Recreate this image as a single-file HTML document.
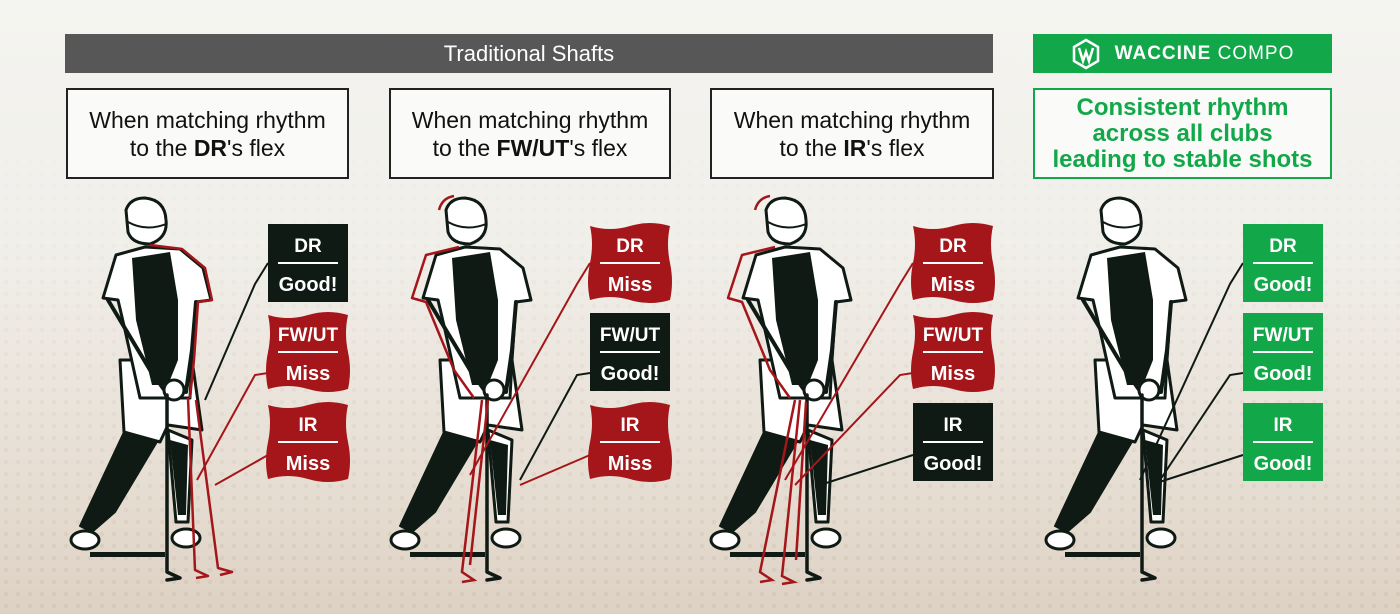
<!DOCTYPE html>
<html><head><meta charset="utf-8"><style>
html,body{margin:0;padding:0}
body{width:1400px;height:614px;overflow:hidden;font-family:"Liberation Sans",sans-serif;
background:linear-gradient(180deg,#f4f4f0 0%,#f1efea 40%,#e6ddd2 80%,#ddd1c3 100%);position:relative}
.dots{position:absolute;inset:0;background-image:radial-gradient(circle,rgba(180,160,140,.18) 2px,transparent 2.5px);background-size:12px 12px;-webkit-mask-image:linear-gradient(180deg,transparent 20%,#000 100%);mask-image:linear-gradient(180deg,transparent 20%,#000 100%)}
.bar{position:absolute;top:34px;height:39px;color:#fff;display:flex;align-items:center;justify-content:center}
.box{position:absolute;top:88px;height:91px;border:2px solid #222;background:#fafaf8;text-align:center;font-size:23px;line-height:28px;color:#111;box-sizing:border-box;padding-top:16px}
svg{position:absolute;left:0;top:0}
</style></head><body>
<div class="dots"></div>
<div class="bar" style="left:65px;width:928px;background:#575757;font-size:22px">Traditional Shafts</div>
<div class="bar" style="left:1033px;width:299px;background:#12a84a;font-size:19px;letter-spacing:1px">
<svg width="30" height="32" viewBox="0 0 30 32" style="position:static;margin-right:14px"><path d="M15 2 L27 9 L27 23 L15 30 L3 23 L3 9 Z" fill="none" stroke="#fff" stroke-width="2.5"/><path d="M8 10 L12 23 L15 14 L18 23 L22 10" fill="none" stroke="#fff" stroke-width="2.5"/></svg>
<b>WACCINE</b>&nbsp;COMPO</div>
<div class="box" style="left:66px;width:283px">When matching rhythm<br>to the <b>DR</b>'s flex</div>
<div class="box" style="left:389px;width:282px">When matching rhythm<br>to the <b>FW/UT</b>'s flex</div>
<div class="box" style="left:710px;width:284px">When matching rhythm<br>to the <b>IR</b>'s flex</div>
<div class="box" style="left:1033px;width:299px;border-color:#12a84a;color:#12a84a;font-weight:bold;font-size:24px;line-height:26px;padding-top:5px">Consistent rhythm<br>across all clubs<br>leading to stable shots</div>

<svg width="1400" height="614" viewBox="0 0 1400 614">
<defs>
<g id="golfer" stroke="#0f1a14" stroke-linejoin="round" stroke-linecap="round">
 <rect x="90" y="552" width="75" height="5" fill="#0f1a14" stroke="none"/>
 <path d="M125,430 L158,440 L115,512 L92,532 L80,526 Z" fill="#0f1a14" stroke-width="2"/>
 <path d="M168,430 L192,440 L188,522 L176,522 Z" fill="#fff" stroke-width="3"/>
 <path d="M170,440 L188,445 L186,515 L178,515 Z" fill="#0f1a14" stroke="none"/>
 <path d="M120,360 L192,360 L202,430 L168,425 L160,442 L124,432 Z" fill="#fff" stroke-width="3"/>
 <path d="M103,298 L116,255 L145,247 L180,249 L203,268 L211,300 L196,302 L192,360 L190,398 L140,398 L125,330 L118,300 Z" fill="#fff" stroke-width="3"/>
 <path d="M132,258 L170,252 L178,300 L178,360 L168,385 L152,385 L136,320 Z" fill="#0f1a14" stroke="none"/>
 <path d="M108,300 L150,370 L170,398" fill="none" stroke-width="4"/>
 <path d="M196,302 L192,350 L186,392" fill="none" stroke-width="4"/>
 <circle cx="174" cy="390" r="10" fill="#fff" stroke-width="3"/>
 <path d="M126,210 Q130,198 145,198 Q165,200 166,220 Q168,238 150,244 Q132,244 128,232 Z" fill="#fff" stroke-width="3"/>
 <path d="M128,222 Q146,232 166,224" fill="none" stroke-width="2"/>
 <ellipse cx="85" cy="540" rx="14" ry="9" fill="#fff" stroke-width="3"/>
 <ellipse cx="186" cy="538" rx="14" ry="9" fill="#fff" stroke-width="3"/>
 <path d="M167,395 L167,572 L180,578 L167,580" fill="none" stroke-width="3.5"/>
</g>
<g id="ghost" fill="none" stroke="#a4161a" stroke-width="2.5" stroke-linejoin="round">
 <path d="M150,245 L182,249 L205,268 L212,300 L198,302 L194,360 L190,398"/>
 <path d="M188,398 L195,570 L208,576 L196,578"/>
 <path d="M196,400 L218,568 L232,572 L220,575"/>
</g>
<g id="ghostL" fill="none" stroke="#a4161a" stroke-width="2.5" stroke-linejoin="round">
 <path d="M145,247 L112,255 L98,298 L112,302 L140,370 L160,398"/>
 <path d="M125,210 Q128,198 140,196"/>
</g>
<path id="wave" d="M0,2 Q20,8 40,2 Q60,-4 80,2 Q76,20 80,39 Q84,58 80,76 Q60,82 40,76 Q20,70 0,76 Q-4,58 0,39 Q4,20 0,2 Z"/>
</defs>

<use href="#golfer"/>
<use href="#ghost"/>
<g transform="translate(320,0)"><use href="#golfer"/><use href="#ghostL" transform="translate(-6,0)"/></g>
<g fill="none" stroke="#a4161a" stroke-width="2.5">
 <path d="M482,400 L462,572 L474,580 L462,582"/>
 <path d="M488,400 L470,565"/>
</g>
<g transform="translate(640,0)"><use href="#golfer"/><use href="#ghostL" transform="translate(-10,0)"/></g>
<g fill="none" stroke="#a4161a" stroke-width="2.5">
 <path d="M795,400 L760,572 L772,580 L760,582"/>
 <path d="M800,400 L782,576 L794,582 L782,584"/>
 <path d="M806,402 L796,560"/>
</g>
<g transform="translate(975,0)"><use href="#golfer"/></g>

<g fill="none" stroke-width="2">
 <path d="M268,263 L255,284 L205,400" stroke="#0f1a14"/>
 <path d="M268,373 L255,375 L197,480" stroke="#a4161a"/>
 <path d="M268,455 L215,485" stroke="#a4161a"/>
 <path d="M590,263 L577,284 L470,475" stroke="#a4161a"/>
 <path d="M590,373 L577,375 L520,480" stroke="#0f1a14"/>
 <path d="M590,455 L520,485" stroke="#a4161a"/>
 <path d="M913,263 L900,284 L785,480" stroke="#a4161a"/>
 <path d="M913,373 L900,375 L795,485" stroke="#a4161a"/>
 <path d="M913,455 L820,485" stroke="#0f1a14"/>
 <path d="M1243,263 L1230,284 L1140,480" stroke="#0f1a14"/>
 <path d="M1243,373 L1230,375 L1160,480" stroke="#0f1a14"/>
 <path d="M1243,455 L1150,485" stroke="#0f1a14"/>
</g>

<g font-family="Liberation Sans, sans-serif" font-weight="bold" fill="#fff" text-anchor="middle">
 <rect x="268" y="224" width="80" height="78" fill="#0f1a14"/>
 <use href="#wave" x="268" y="313" fill="#a4161a"/>
 <use href="#wave" x="268" y="403" fill="#a4161a"/>
 <use href="#wave" x="590" y="224" fill="#a4161a"/>
 <rect x="590" y="313" width="80" height="78" fill="#0f1a14"/>
 <use href="#wave" x="590" y="403" fill="#a4161a"/>
 <use href="#wave" x="913" y="224" fill="#a4161a"/>
 <use href="#wave" x="913" y="313" fill="#a4161a"/>
 <rect x="913" y="403" width="80" height="78" fill="#0f1a14"/>
 <rect x="1243" y="224" width="80" height="78" fill="#12a84a"/>
 <rect x="1243" y="313" width="80" height="78" fill="#12a84a"/>
 <rect x="1243" y="403" width="80" height="78" fill="#12a84a"/>
 <g stroke="#fff" stroke-width="2">
  <path d="M278,263H338M278,352H338M278,442H338M600,263H660M600,352H660M600,442H660M923,263H983M923,352H983M923,442H983M1253,263H1313M1253,352H1313M1253,442H1313"/>
 </g>
 <g font-size="19">
  <text x="308" y="252">DR</text><text x="308" y="341">FW/UT</text><text x="308" y="431">IR</text>
  <text x="630" y="252">DR</text><text x="630" y="341">FW/UT</text><text x="630" y="431">IR</text>
  <text x="953" y="252">DR</text><text x="953" y="341">FW/UT</text><text x="953" y="431">IR</text>
  <text x="1283" y="252">DR</text><text x="1283" y="341">FW/UT</text><text x="1283" y="431">IR</text>
 </g>
 <g font-size="20">
  <text x="308" y="291">Good!</text><text x="308" y="380">Miss</text><text x="308" y="470">Miss</text>
  <text x="630" y="291">Miss</text><text x="630" y="380">Good!</text><text x="630" y="470">Miss</text>
  <text x="953" y="291">Miss</text><text x="953" y="380">Miss</text><text x="953" y="470">Good!</text>
  <text x="1283" y="291">Good!</text><text x="1283" y="380">Good!</text><text x="1283" y="470">Good!</text>
 </g>
</g>
</svg>
</body></html>
